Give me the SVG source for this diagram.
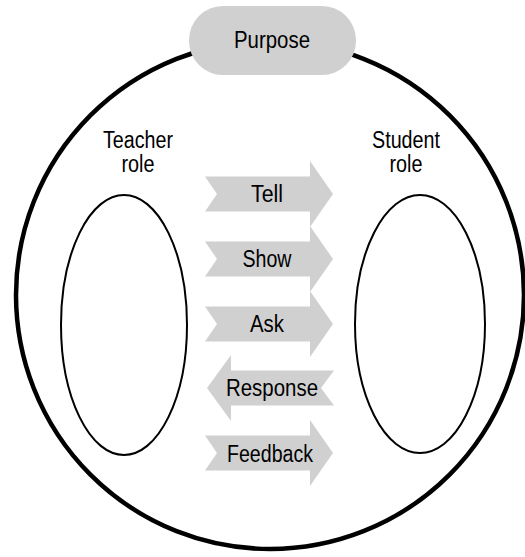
<svg xmlns="http://www.w3.org/2000/svg" width="525" height="557" viewBox="0 0 525 557">
<style>
.lbl{font-family:"Liberation Sans",Arial,sans-serif;font-size:23.5px;fill:#000;text-anchor:middle}
.arrow{fill:#d0d0d0;stroke:none}
.role{fill:none;stroke:#000;stroke-width:2}
</style>
<rect width="525" height="557" fill="#fff"/>
<g id="outer">
<circle cx="270" cy="295" r="254" fill="none" stroke="#000" stroke-width="4.5"/>
</g>
<g id="purpose">
<rect x="189" y="6" width="167" height="69" rx="34" ry="34" fill="#d0d0d0"/>
<text class="lbl" x="272" y="48" textLength="76" lengthAdjust="spacingAndGlyphs">Purpose</text>
</g>
<g id="teacher">
<ellipse class="role" cx="124" cy="325" rx="63" ry="130"/>
<text class="lbl" x="138" y="148" textLength="70" lengthAdjust="spacingAndGlyphs">Teacher</text>
<text class="lbl" x="138" y="172" textLength="33" lengthAdjust="spacingAndGlyphs">role</text>
</g>
<g id="student">
<ellipse class="role" cx="420" cy="324" rx="65" ry="129"/>
<text class="lbl" x="406" y="148" textLength="68" lengthAdjust="spacingAndGlyphs">Student</text>
<text class="lbl" x="406" y="172" textLength="33" lengthAdjust="spacingAndGlyphs">role</text>
</g>
<g id="connectors">
<g id="tell">
<polygon class="arrow" points="205,176.5 310,176.5 310,161 333,194 310,227 310,211.5 205,211.5 217,194"/>
<text class="lbl" x="267" y="202" textLength="32" lengthAdjust="spacingAndGlyphs">Tell</text>
</g>
<g id="show">
<polygon class="arrow" points="205,241.5 310,241.5 310,226 333,259 310,292 310,276.5 205,276.5 217,259"/>
<text class="lbl" x="267" y="267" textLength="49" lengthAdjust="spacingAndGlyphs">Show</text>
</g>
<g id="ask">
<polygon class="arrow" points="205,306.5 310,306.5 310,291 333,324 310,357 310,341.5 205,341.5 217,324"/>
<text class="lbl" x="267" y="332" textLength="34" lengthAdjust="spacingAndGlyphs">Ask</text>
</g>
<g id="response">
<polygon class="arrow" points="334,370.5 231,370.5 231,355 207,388 231,421 231,405.5 334,405.5 321,388"/>
<text class="lbl" x="272" y="396" textLength="92" lengthAdjust="spacingAndGlyphs">Response</text>
</g>
<g id="feedback">
<polygon class="arrow" points="205,435.5 310,435.5 310,420 333,453 310,486 310,470.5 205,470.5 217,453"/>
<text class="lbl" x="270" y="462" textLength="86" lengthAdjust="spacingAndGlyphs">Feedback</text>
</g>
</g>
</svg>
